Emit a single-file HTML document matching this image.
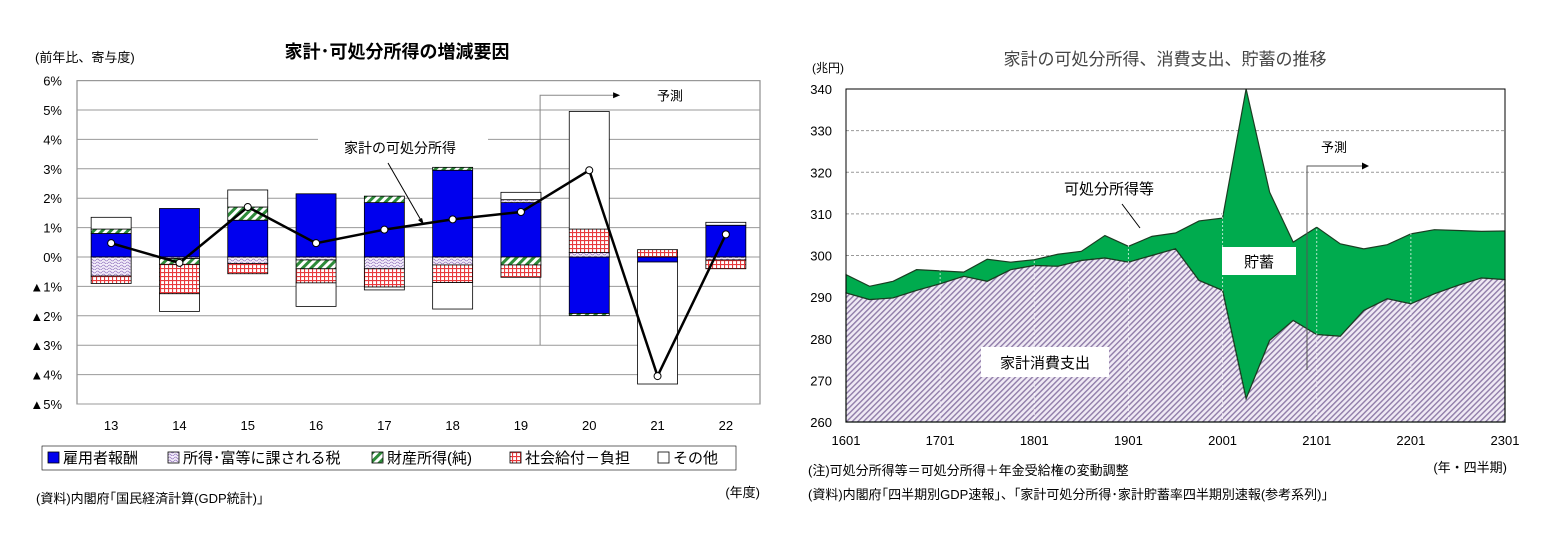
<!DOCTYPE html>
<html><head><meta charset="utf-8">
<style>
html,body{margin:0;padding:0;background:#fff;width:1548px;height:545px;overflow:hidden}
svg{display:block;font-family:"Liberation Sans","Noto Sans CJK JP",sans-serif}
</style></head>
<body>
<svg id="c" width="1548" height="545" xmlns="http://www.w3.org/2000/svg">
<defs>
<pattern id="pTax" width="6" height="6" patternUnits="userSpaceOnUse"><rect width="6" height="6" fill="#f4eefa"/><path d="M0 2 Q1.5 0 3 2 T6 2" stroke="#9b7fc4" fill="none" stroke-width="0.8"/><path d="M0 5 Q1.5 3 3 5 T6 5" stroke="#9b7fc4" fill="none" stroke-width="0.8"/></pattern>
<pattern id="pProp" width="6" height="6" patternUnits="userSpaceOnUse" patternTransform="rotate(45)"><rect width="6" height="6" fill="#fff"/><rect width="3" height="6" fill="#2e8b3a"/></pattern>
<pattern id="pSoc" width="4" height="4" patternUnits="userSpaceOnUse"><rect width="4" height="4" fill="#fff"/><path d="M0 0.5H4M0.5 0V4" stroke="#e8393c" stroke-width="1.2"/></pattern>
<pattern id="pCons" width="4" height="4" patternUnits="userSpaceOnUse" patternTransform="rotate(45)"><rect width="4" height="4" fill="#efe9f4"/><rect width="1.4" height="4" fill="#8f7ca8"/></pattern>
</defs>
<text x="35" y="62" font-size="13">(前年比、寄与度)</text>
<text x="397" y="58" font-size="18" font-weight="bold" text-anchor="middle">家計･可処分所得の増減要因</text>
<text x="1165" y="65" font-size="17" fill="#444" text-anchor="middle">家計の可処分所得、消費支出、貯蓄の推移</text>
<text x="812" y="72" font-size="12">(兆円)</text>
<g id="L"></g><g id="R"></g>
<text x="36" y="503" font-size="13">(資料)内閣府｢国民経済計算(GDP統計)｣</text>
<text x="760" y="497" font-size="13" text-anchor="end">(年度)</text>
<text x="808" y="475" font-size="13">(注)可処分所得等＝可処分所得＋年金受給権の変動調整</text>
<text x="1507" y="472" font-size="13" text-anchor="end">(年・四半期)</text>
<text x="808" y="499" font-size="13">(資料)内閣府｢四半期別GDP速報｣、｢家計可処分所得･家計貯蓄率四半期別速報(参考系列)｣</text>
</svg>
<script>
const NS="http://www.w3.org/2000/svg";
const years=["13","14","15","16","17","18","19","20","21","22"];
const employ=[0.8,1.65,1.25,2.15,1.85,2.95,1.85,-1.92,-0.17,1.08];
const tax=[-0.65,-0.05,-0.22,-0.1,-0.4,-0.27,0.1,0.15,0,-0.1];
const prop=[0.15,-0.2,0.45,-0.3,0.22,0.1,-0.27,-0.07,0,0];
const social=[-0.25,-1.0,-0.35,-0.48,-0.62,-0.6,-0.42,0.8,0.25,-0.3];
const other=[0.4,-0.6,0.58,-0.8,-0.1,-0.9,0.25,4.0,-4.15,0.1];
const disp=[0.47,-0.2,1.7,0.47,0.93,1.28,1.53,2.95,-4.05,0.77];
const leftTicks=["6%","5%","4%","3%","2%","1%","0%","▲1%","▲2%","▲3%","▲4%","▲5%"];
const quarters=["1601","1701","1801","1901","2001","2101","2201","2301"];
const income=[295.4,292.6,293.8,296.6,296.3,296,299.1,298.4,299,300.3,301,304.8,302.2,304.6,305.4,308.3,309,340,315.2,303.2,306.8,302.8,301.6,302.6,305.2,306.2,306,305.8,305.9];
const consump=[291,289.4,289.8,291.6,293.2,295,293.8,296.6,297.6,297.4,298.8,299.4,298.4,300,301.6,294,291.6,265.6,279.6,284.4,281,280.6,286.8,289.6,288.4,290.8,292.8,294.6,294.2];
const rightTicks=[260,270,280,290,300,310,320,330,340];

function mk(tag,attrs,parent,txt){const e=document.createElementNS(NS,tag);for(const k in attrs)e.setAttribute(k,attrs[k]);if(txt!==undefined)e.textContent=txt;parent.appendChild(e);return e;}

// LEFT
const L=document.getElementById('L');
const lx0=77,lx1=760,ly=v=>257-v*29.4;
const band=(lx1-lx0)/years.length, lxc=i=>lx0+band*(i+0.5);
mk('rect',{x:lx0,y:ly(6),width:lx1-lx0,height:ly(-5)-ly(6),fill:'#fff',stroke:'#777'},L);
leftTicks.forEach((t,i)=>{const v=6-i;
 const g=mk('line',{x1:lx0,x2:lx1,y1:ly(v),y2:ly(v),stroke:'#999'},L);
 
 const tx=mk('text',{x:62,y:ly(v)+5,'font-size':13,'text-anchor':'end'},L,t);
 });
years.forEach((y,i)=>{const t=mk('text',{x:lxc(i),y:430,'font-size':13,'text-anchor':'middle'},L,y);
 });
const fx=lx0+band*7-15;
mk('polyline',{points:`${fx},${ly(-3)} ${fx},${ly(5.5)} ${fx+75},${ly(5.5)}`,fill:'none',stroke:'#888'},L);
mk('path',{d:`M${fx+80},${ly(5.5)} l-7,-3 v6z`,fill:'#000'},L);
const fl=mk('text',{x:670,y:ly(5.5)+5,'font-size':13,'text-anchor':'middle'},L,'予測');

const series=[[employ,'#0000ee','employee-bar'],[tax,'url(#pTax)','tax-bar'],[prop,'url(#pProp)','property-bar'],[social,'url(#pSoc)','social-bar'],[other,'#fff','other-bar']];
const bw=40;
years.forEach((y,i)=>{let pos=0,neg=0;
 series.forEach(([arr,fill,name])=>{const v=arr[i];if(!v)return;let a,b;
  if(v>0){a=pos;b=pos+v;pos=b;}else{a=neg;b=neg+v;neg=b;}
  const r=mk('rect',{x:lxc(i)-bw/2,y:ly(Math.max(a,b)),width:bw,height:Math.abs(ly(a)-ly(b)),fill:fill,stroke:'#000','stroke-width':0.8},L);
  });});
const linePts=disp.map((v,i)=>lxc(i)+','+ly(v)).join(' ');
const pl=mk('polyline',{points:linePts,fill:'none',stroke:'#000','stroke-width':2.5},L);

disp.forEach((v,i)=>{const c=mk('circle',{cx:lxc(i),cy:ly(v),r:3.5,fill:'#fff',stroke:'#000'},L);
 });
mk('rect',{x:318,y:134,width:170,height:26,fill:'#fff'},L);
const ll=mk('text',{x:400,y:153,'font-size':14,'text-anchor':'middle'},L,'家計の可処分所得');

mk('line',{x1:388,y1:163,x2:422,y2:222,stroke:'#000'},L);
mk('path',{d:'M424,225 l-6,-5 l4,-2z',fill:'#000'},L);
const legItems=[['#0000ee','雇用者報酬',48],['url(#pTax)','所得･富等に課される税',168],['url(#pProp)','財産所得(純)',372],['url(#pSoc)','社会給付－負担',510],['#fff','その他',658]];
legItems.forEach(([f,t,x])=>{const g=mk('g',{},L);
 
 mk('rect',{x:x,y:452,width:11,height:11,fill:f,stroke:'#000','stroke-width':0.8},g);
 mk('text',{x:x+15,y:463,'font-size':15},g,t);});
mk('rect',{x:42,y:446,width:694,height:24,fill:'none',stroke:'#000','stroke-width':0.6},L);

// RIGHT
const R=document.getElementById('R');
const rx0=846,rx1=1505,ry=v=>422-(v-260)*(333/80);
const rx=i=>rx0+i*(rx1-rx0)/(income.length-1);
mk('rect',{x:rx0,y:ry(340),width:rx1-rx0,height:ry(260)-ry(340),fill:'#fff'},R);
rightTicks.forEach(v=>{if(v>260&&v<340){const g=mk('line',{x1:rx0,x2:rx1,y1:ry(v),y2:ry(v),stroke:'#999','stroke-dasharray':'3,2'},R);
 }
 const t=mk('text',{x:832,y:ry(v)+5,'font-size':13,'text-anchor':'end'},R,v);
 });
const topPts=income.map((v,i)=>rx(i)+','+ry(v)).join(' ');
const botPts=consump.map((v,i)=>rx(i)+','+ry(v)).reverse().join(' ');
const sav=mk('polygon',{points:topPts+' '+botPts,fill:'#00ab4e',stroke:'#1a3d22','stroke-width':1.2},R);

const cons=mk('polygon',{points:consump.map((v,i)=>rx(i)+','+ry(v)).join(' ')+` ${rx1},${ry(260)} ${rx0},${ry(260)}`,fill:'url(#pCons)',stroke:'#1a3d22','stroke-width':1.2},R);

quarters.forEach((q,k)=>{const x=rx(k*4);
 if(k>0&&k<quarters.length-1)mk('line',{x1:x,x2:x,y1:ry(340),y2:ry(260),stroke:'#fff','stroke-dasharray':'2,2','stroke-opacity':0.7},R);
 const t=mk('text',{x:x,y:445,'font-size':13,'text-anchor':'middle'},R,q);
 });
mk('rect',{x:rx0,y:ry(340),width:rx1-rx0,height:ry(260)-ry(340),fill:'none',stroke:'#000'},R);
mk('polyline',{points:`1307,370 1307,166 1362,166`,fill:'none',stroke:'#555'},R);
mk('path',{d:'M1369,166 l-7,-3.5 v7z',fill:'#000'},R);
const rf=mk('text',{x:1334,y:152,'font-size':13,'text-anchor':'middle'},R,'予測');

const il=mk('text',{x:1109,y:194,'font-size':15,'text-anchor':'middle'},R,'可処分所得等');

mk('line',{x1:1122,y1:204,x2:1140,y2:228,stroke:'#000'},R);
mk('rect',{x:1222,y:247,width:74,height:28,fill:'#fff'},R);
const sl=mk('text',{x:1259,y:267,'font-size':15,'text-anchor':'middle'},R,'貯蓄');

mk('rect',{x:981,y:347,width:128,height:30,fill:'#fff'},R);
const cl=mk('text',{x:1045,y:368,'font-size':15,'text-anchor':'middle'},R,'家計消費支出');

</script>
</body></html>
